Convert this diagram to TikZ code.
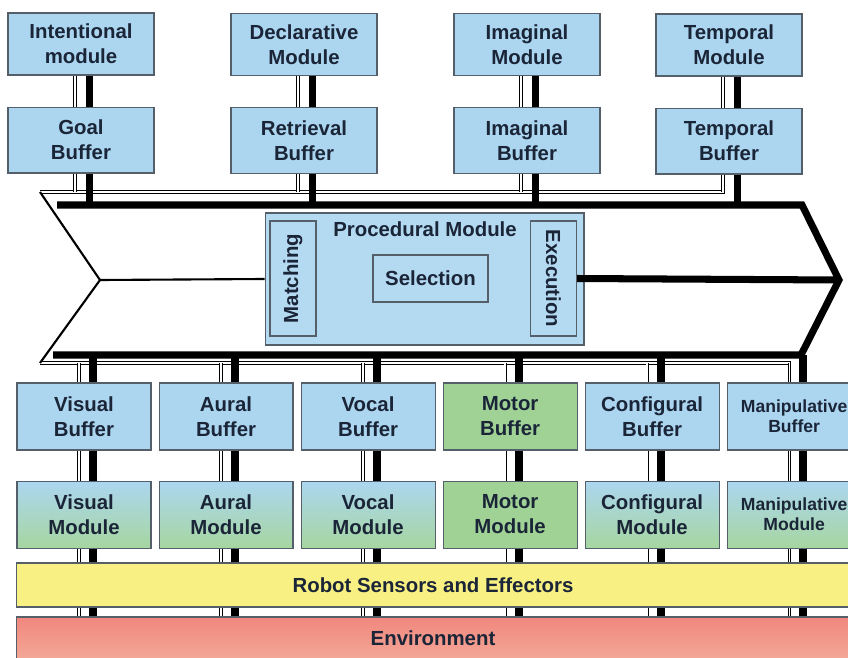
\documentclass[tikz,border=0pt]{standalone}
\usepackage{fontspec}
\setmainfont{Liberation Sans}
\usepackage{xcolor}
\usepackage{graphicx}
\usepackage{tikz}
\usetikzlibrary{positioning}

\definecolor{boxblue}{RGB}{172,214,240}
\definecolor{procblue}{RGB}{180,218,242}
\definecolor{motorgreen}{RGB}{160,210,150}
\definecolor{modgreen}{RGB}{166,214,160}
\definecolor{robotyellow}{RGB}{248,240,130}
\definecolor{envred}{RGB}{240,135,125}
\definecolor{envlight}{RGB}{244,168,152}
\definecolor{boxline}{RGB}{85,95,105}
\definecolor{textnavy}{RGB}{27,37,56}

\begin{document}
\begin{tikzpicture}[x=0.02cm, y=-0.02cm]
        % --- estilos ---
        \tikzstyle{unit} = [
            rectangle,
            draw=boxline,
            line width=0.6pt,
            fill=boxblue,
            minimum width=2.92cm,
            minimum height=1.24cm,
            inner sep=1pt,
            align=center,
            text=textnavy,
            font=\bfseries\fontsize{11.6}{14.2}\selectfont
        ]
        \tikzstyle{topbuf} = [unit, minimum height=1.32cm]
        \tikzstyle{lowbuf} = [unit, minimum width=2.68cm, minimum height=1.34cm]
        \tikzstyle{lowmod} = [lowbuf, top color=boxblue, bottom color=modgreen]
        \tikzstyle{motor} = [lowbuf, fill=motorgreen]
        \tikzstyle{smalltext} = [font=\bfseries\fontsize{10}{11.4}\selectfont]
        \tikzstyle{band} = [unit, minimum width=16.68cm, minimum height=0.88cm]
        \tikzstyle{thinbus} = [draw=black, line width=0.55pt, double=white, double distance=0.7pt]
        \tikzstyle{thinline} = [draw=black, line width=1.2pt]
        \tikzstyle{thickbus} = [draw=black, line width=4.5pt]
        \tikzstyle{chevron} = [draw=black, line width=4pt]

        \useasboundingbox (0,0) rectangle (848,658);

        % --- nós (módulos de cima) ---
        \node (intent) [unit] at (81,44) {Intentional\\module};
        \node (decl) [unit] at (304,44.5) {Declarative\\Module};
        \node (imagmod) [unit] at (527,44.5) {Imaginal\\Module};
        \node (tempmod) [unit] at (729,45) {Temporal\\Module};
        \node (goal) [topbuf, below=0.62cm of intent] {Goal\\Buffer};
        \node (retr) [topbuf, below=0.62cm of decl] {Retrieval\\Buffer};
        \node (imagbuf) [topbuf, below=0.62cm of imagmod] {Imaginal\\Buffer};
        \node (tempbuf) [topbuf, below=0.62cm of tempmod] {Temporal\\Buffer};

        % --- nós (módulo procedural) ---
        \node (proc) [unit, fill=procblue, minimum width=6.38cm, minimum height=2.64cm] at (424.5,279) {};
        \node (proctitle) [text=textnavy, font=\bfseries\fontsize{11.6}{14.2}\selectfont] at (425,229) {Procedural Module};
        \node (match) [unit, fill=procblue, minimum width=0.92cm, minimum height=2.3cm] at (293,278.5) {\rotatebox{90}{Matching}};
        \node (select) [unit, fill=procblue, minimum width=2.3cm, minimum height=0.94cm] at (430.5,278.5) {Selection};
        \node (exec) [unit, fill=procblue, minimum width=0.92cm, minimum height=2.3cm] at (553.5,278.5) {\rotatebox{-90}{Execution}};

        % --- nós (buffers e módulos de baixo) ---
        \node (visbuf) [lowbuf] at (84,416.5) {Visual\\Buffer};
        \node (aurbuf) [lowbuf, right=0.14cm of visbuf] {Aural\\Buffer};
        \node (vocbuf) [lowbuf, right=0.14cm of aurbuf] {Vocal\\Buffer};
        \node (motbuf) [motor, right=0.14cm of vocbuf] {Motor\\Buffer};
        \node (cfgbuf) [lowbuf, right=0.14cm of motbuf] {Configural\\Buffer};
        \node (manbuf) [lowbuf, smalltext, right=0.14cm of cfgbuf] {Manipulative\\Buffer};
        \node (vismod) [lowmod, below=0.6cm of visbuf] {Visual\\Module};
        \node (aurmod) [lowmod, below=0.6cm of aurbuf] {Aural\\Module};
        \node (vocmod) [lowmod, below=0.6cm of vocbuf] {Vocal\\Module};
        \node (motmod) [motor, below=0.6cm of motbuf] {Motor\\Module};
        \node (cfgmod) [lowmod, below=0.6cm of cfgbuf] {Configural\\Module};
        \node (manmod) [lowmod, smalltext, below=0.6cm of manbuf] {Manipulative\\Module};

        \node (robot) [band, fill=robotyellow] at (433,585) {Robot Sensors and Effectors};
        \node (env) [band, minimum height=0.86cm, top color=envred, bottom color=envlight] at (433,638.5) {Environment};

        % --- contorno (seta) ---
        \coordinate (tl) at (40,192);
        \coordinate (notch) at (100,280);
        \coordinate (bl) at (40,363);
        \coordinate (thicktop) at (57,205);
        \coordinate (thickbot) at (53,355);
        \coordinate (tip) at (839,280);

        \draw [thinbus] ([xshift=-0.12cm]tempbuf.south) |- (tl);
        \draw [thinbus] (bl) -| ([xshift=-0.1cm]manbuf.north);
        \draw [thinline, line join=miter] (tl) -- (notch) -- (bl);
        \draw [chevron] (thicktop) -- (802,205) -- (tip) -- (801,355) -- (thickbot);
        \draw [thinline] (notch) -- (proc.west);
        \draw [chevron] (exec.east) -- (tip);

        % --- conexões ---
        \foreach \m/\b in {intent/goal, decl/retr, imagmod/imagbuf, tempmod/tempbuf} {
            \draw [thinbus] ([xshift=-0.12cm]\m.south) -- ([xshift=-0.12cm]\b.north);
            \draw [thinbus] ([xshift=-0.12cm]\b.south) -- ([xshift=-0.12cm]\b.south |- tl);
            \draw [thickbus] ([xshift=0.17cm]\m.south) -- ([xshift=0.17cm]\b.north);
            \draw [thickbus] ([xshift=0.17cm]\b.south) -- ([xshift=0.17cm]\b.south |- thicktop);
        }
        \foreach \col in {vis, aur, voc, mot, cfg, man} {
            \draw [thinbus] ([xshift=-0.1cm]\col buf.north |- bl) -- ([xshift=-0.1cm]\col buf.north);
            \draw [thinbus] ([xshift=-0.1cm]\col buf.south) -- ([xshift=-0.1cm]\col mod.north);
            \draw [thinbus] ([xshift=-0.1cm]\col mod.south) -- ([xshift=-0.1cm]\col mod.south |- robot.north);
            \draw [thinbus] ([xshift=-0.1cm]\col mod.south |- robot.south) -- ([xshift=-0.1cm]\col mod.south |- env.north);
            \draw [thickbus] ([xshift=0.18cm]\col buf.north |- thickbot) -- ([xshift=0.18cm]\col buf.north);
            \draw [thickbus] ([xshift=0.18cm]\col buf.south) -- ([xshift=0.18cm]\col mod.north);
            \draw [thickbus] ([xshift=0.18cm]\col mod.south) -- ([xshift=0.18cm]\col mod.south |- robot.north);
            \draw [thickbus] ([xshift=0.18cm]\col mod.south |- robot.south) -- ([xshift=0.18cm]\col mod.south |- env.north);
        }
    \end{tikzpicture}
\end{document}
